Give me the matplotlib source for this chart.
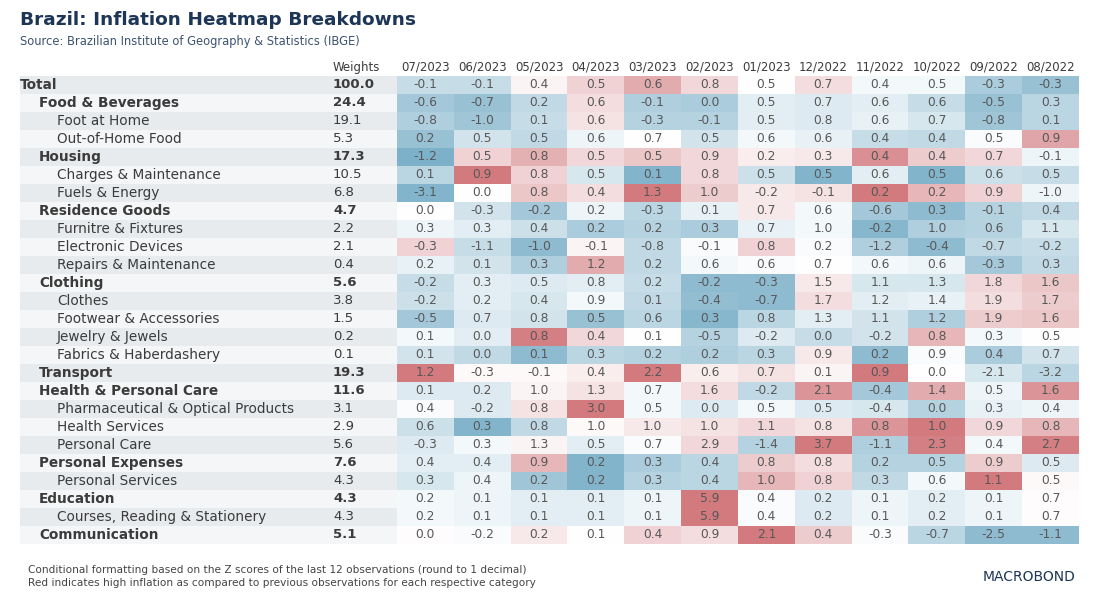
import matplotlib
matplotlib.use("Agg")
import matplotlib.pyplot as plt
from matplotlib.colors import LinearSegmentedColormap, Normalize
import numpy as np

# ---- data -------------------------------------------------------------
months = ['07/2023', '06/2023', '05/2023', '04/2023', '03/2023', '02/2023',
          '01/2023', '12/2022', '11/2022', '10/2022', '09/2022', '08/2022']

categories = ['Total', 'Food & Beverages', 'Foot at Home', 'Out-of-Home Food',
              'Housing', 'Charges & Maintenance', 'Fuels & Energy',
              'Residence Goods', 'Furnitre & Fixtures', 'Electronic Devices',
              'Repairs & Maintenance', 'Clothing', 'Clothes',
              'Footwear & Accessories', 'Jewelry & Jewels',
              'Fabrics & Haberdashery', 'Transport', 'Health & Personal Care',
              'Pharmaceutical & Optical Products', 'Health Services',
              'Personal Care', 'Personal Expenses', 'Personal Services',
              'Education', 'Courses, Reading & Stationery', 'Communication']

levels = [0, 1, 2, 2, 1, 2, 2, 1, 2, 2, 2, 1, 2, 2, 2, 2, 1, 1, 2, 2, 2, 1, 2, 1, 2, 1]

weights = [100.0, 24.4, 19.1, 5.3, 17.3, 10.5, 6.8, 4.7, 2.2, 2.1, 0.4, 5.6, 3.8,
           1.5, 0.2, 0.1, 19.3, 11.6, 3.1, 2.9, 5.6, 7.6, 4.3, 4.3, 4.3, 5.1]

values = np.array([
    [-0.1, -0.1, 0.4, 0.5, 0.6, 0.8, 0.5, 0.7, 0.4, 0.5, -0.3, -0.3],
    [-0.6, -0.7, 0.2, 0.6, -0.1, 0.0, 0.5, 0.7, 0.6, 0.6, -0.5, 0.3],
    [-0.8, -1.0, 0.1, 0.6, -0.3, -0.1, 0.5, 0.8, 0.6, 0.7, -0.8, 0.1],
    [0.2, 0.5, 0.5, 0.6, 0.7, 0.5, 0.6, 0.6, 0.4, 0.4, 0.5, 0.9],
    [-1.2, 0.5, 0.8, 0.5, 0.5, 0.9, 0.2, 0.3, 0.4, 0.4, 0.7, -0.1],
    [0.1, 0.9, 0.8, 0.5, 0.1, 0.8, 0.5, 0.5, 0.6, 0.5, 0.6, 0.5],
    [-3.1, 0.0, 0.8, 0.4, 1.3, 1.0, -0.2, -0.1, 0.2, 0.2, 0.9, -1.0],
    [0.0, -0.3, -0.2, 0.2, -0.3, 0.1, 0.7, 0.6, -0.6, 0.3, -0.1, 0.4],
    [0.3, 0.3, 0.4, 0.2, 0.2, 0.3, 0.7, 1.0, -0.2, 1.0, 0.6, 1.1],
    [-0.3, -1.1, -1.0, -0.1, -0.8, -0.1, 0.8, 0.2, -1.2, -0.4, -0.7, -0.2],
    [0.2, 0.1, 0.3, 1.2, 0.2, 0.6, 0.6, 0.7, 0.6, 0.6, -0.3, 0.3],
    [-0.2, 0.3, 0.5, 0.8, 0.2, -0.2, -0.3, 1.5, 1.1, 1.3, 1.8, 1.6],
    [-0.2, 0.2, 0.4, 0.9, 0.1, -0.4, -0.7, 1.7, 1.2, 1.4, 1.9, 1.7],
    [-0.5, 0.7, 0.8, 0.5, 0.6, 0.3, 0.8, 1.3, 1.1, 1.2, 1.9, 1.6],
    [0.1, 0.0, 0.8, 0.4, 0.1, -0.5, -0.2, 0.0, -0.2, 0.8, 0.3, 0.5],
    [0.1, 0.0, 0.1, 0.3, 0.2, 0.2, 0.3, 0.9, 0.2, 0.9, 0.4, 0.7],
    [1.2, -0.3, -0.1, 0.4, 2.2, 0.6, 0.7, 0.1, 0.9, 0.0, -2.1, -3.2],
    [0.1, 0.2, 1.0, 1.3, 0.7, 1.6, -0.2, 2.1, -0.4, 1.4, 0.5, 1.6],
    [0.4, -0.2, 0.8, 3.0, 0.5, 0.0, 0.5, 0.5, -0.4, 0.0, 0.3, 0.4],
    [0.6, 0.3, 0.8, 1.0, 1.0, 1.0, 1.1, 0.8, 0.8, 1.0, 0.9, 0.8],
    [-0.3, 0.3, 1.3, 0.5, 0.7, 2.9, -1.4, 3.7, -1.1, 2.3, 0.4, 2.7],
    [0.4, 0.4, 0.9, 0.2, 0.3, 0.4, 0.8, 0.8, 0.2, 0.5, 0.9, 0.5],
    [0.3, 0.4, 0.2, 0.2, 0.3, 0.4, 1.0, 0.8, 0.3, 0.6, 1.1, 0.5],
    [0.2, 0.1, 0.1, 0.1, 0.1, 5.9, 0.4, 0.2, 0.1, 0.2, 0.1, 0.7],
    [0.2, 0.1, 0.1, 0.1, 0.1, 5.9, 0.4, 0.2, 0.1, 0.2, 0.1, 0.7],
    [0.0, -0.2, 0.2, 0.1, 0.4, 0.9, 2.1, 0.4, -0.3, -0.7, -2.5, -1.1],
])

# z scores (rolling 12 obs) as read from the cell shading
zscores = np.array([
    [-1.0, -1.0, 0.2, 0.8, 1.5, 0.7, 0.0, 0.6, -0.2, -0.2, -1.5, -1.8],
    [-1.6, -1.8, -1.1, 0.6, -1.4, -1.5, -0.5, -0.6, -0.5, -1.0, -1.8, -1.2],
    [-1.4, -1.7, -1.0, 0.5, -1.3, -1.3, -0.5, -0.6, -0.4, -0.7, -1.7, -1.2],
    [-1.8, -0.8, -1.1, -0.3, 0.0, -0.8, -0.2, -0.4, -1.0, -1.1, -0.1, 1.6],
    [-2.3, 0.8, 1.4, 0.7, 1.0, 0.7, 0.3, 0.4, 2.0, 0.9, 0.7, -0.3],
    [-1.2, 2.6, 0.8, -0.7, -2.2, 0.7, -0.9, -2.2, -0.5, -2.2, -0.9, -1.0],
    [-2.2, 0.0, 1.0, 0.6, 2.5, 0.9, 0.4, 0.5, 2.5, 1.3, 0.8, -0.3],
    [0.0, -0.8, -1.6, -0.3, -1.2, -0.4, 0.4, -0.2, -1.6, -2.0, -1.3, -1.1],
    [-0.3, -0.5, -0.9, -1.5, -1.3, -1.5, -0.4, -0.2, -2.1, -1.4, -1.3, -0.7],
    [0.8, -1.0, -2.0, 0.2, -1.1, -0.1, 0.8, -0.1, -1.4, -2.0, -1.1, -1.0],
    [-0.4, -0.8, -1.4, 1.5, -1.1, -0.2, -0.1, 0.0, -0.2, -0.3, -1.6, -1.1],
    [-1.0, -0.5, -0.6, -0.5, -1.0, -2.0, -2.0, 0.4, -0.7, -0.7, 0.7, 1.0],
    [-0.9, -0.5, -0.7, -0.2, -1.1, -1.9, -2.0, 0.6, -0.5, -0.4, 0.6, 0.9],
    [-1.6, -0.6, -0.8, -1.8, -1.2, -2.1, -1.2, -0.5, -0.8, -1.4, 0.9, 1.0],
    [-0.2, -0.5, 2.3, 0.7, 0.0, -1.3, -0.6, -1.0, -0.8, 1.3, -0.2, 0.0],
    [-0.8, -1.1, -2.0, -1.2, -1.3, -1.4, -1.2, 0.4, -2.0, -0.1, -1.5, -0.8],
    [2.4, 0.1, 0.1, 0.3, 2.4, 0.3, 0.5, 0.2, 2.5, 0.0, -0.7, -1.2],
    [-0.6, -0.6, 0.2, 0.5, -0.2, 0.6, -1.1, 1.9, -1.6, 1.5, -0.3, 1.9],
    [-0.1, -0.6, 0.5, 2.5, -0.2, -0.6, -0.2, -0.6, -0.7, -1.3, -0.4, -0.3],
    [-0.9, -2.2, -1.1, 0.1, 0.4, 0.5, 0.7, 0.5, 1.9, 2.5, 0.7, 1.3],
    [-0.6, -0.2, 0.2, -0.5, -0.1, 0.7, -1.3, 2.4, -1.4, 2.3, -0.2, 2.3],
    [-0.5, -0.5, 1.3, -2.2, -1.5, -1.2, 0.9, 0.6, -1.3, -1.3, 0.9, -0.6],
    [-0.7, -0.3, -1.7, -2.2, -1.3, -1.2, 1.3, 0.8, -1.1, -0.2, 2.4, 0.1],
    [-0.2, -0.3, -0.5, -0.5, -0.3, 2.6, -0.1, -0.6, -0.3, -0.5, -0.3, 0.05],
    [-0.2, -0.3, -0.5, -0.5, -0.3, 2.6, -0.1, -0.6, -0.3, -0.5, -0.3, 0.05],
    [0.05, -0.1, 0.4, 0.0, 0.8, 0.6, 2.5, 0.9, -0.1, -1.2, -2.0, -2.0],
])

# ---- layout (pixels) --------------------------------------------------
W, H = 1099, 599
row_top = 76
row_h = 18.0
x_cells0, x_cells1 = 397, 1079
x_weights = 333
indent_x = [20, 39, 57]
navy = '#1d3557'
txt = '#3b3b3b'

plt.rcParams['font.family'] = ['DejaVu Sans']

fig = plt.figure(figsize=(W / 100, H / 100), dpi=100)
ax = fig.add_axes([0, 0, 1, 1])
ax.set_xlim(0, W)
ax.set_ylim(H, 0)
ax.axis('off')

n_rows = len(categories)
n_cols = len(months)
col_w = (x_cells1 - x_cells0) / n_cols
row_bottom = row_top + n_rows * row_h

# alternating row bands behind the label and weight columns
for i in range(n_rows):
    band = '#e8ebee' if i % 2 == 0 else '#f5f6f7'
    ax.add_patch(plt.Rectangle((20, row_top + i * row_h), x_cells0 - 20, row_h,
                               facecolor=band, edgecolor='none', zorder=0))

cmap = LinearSegmentedColormap.from_list(
    'bwr_soft', ['#78aec7', '#ffffff', '#d27a7e'])
ax.imshow(zscores, cmap=cmap, norm=Normalize(-2.4, 2.4), aspect='auto',
          interpolation='nearest',
          extent=[x_cells0, x_cells1, row_bottom, row_top], zorder=1)
ax.set_xlim(0, W)
ax.set_ylim(H, 0)

# headers
hy = row_top - 9
ax.text(x_weights, hy, 'Weights', ha='left', va='center', fontsize=8.5, color=txt)
for j, m in enumerate(months):
    ax.text(x_cells0 + (j + 0.5) * col_w, hy, m, ha='center', va='center',
            fontsize=8.5, color=txt)

for i, cat in enumerate(categories):
    y = row_top + (i + 0.5) * row_h
    bold = levels[i] <= 1
    fw = 'bold' if bold else 'normal'
    ax.text(indent_x[levels[i]], y, cat, ha='left', va='center', fontsize=9.8,
            fontweight=fw, color=txt)
    ax.text(x_weights, y, f'{weights[i]:.1f}', ha='left', va='center',
            fontsize=9.5, fontweight=fw, color=txt)
    for j in range(n_cols):
        ax.text(x_cells0 + (j + 0.5) * col_w, y, f'{values[i, j]:.1f}',
                ha='center', va='center', fontsize=8.8, color='#585858', zorder=3)

# titles
ax.text(20, 20, 'Brazil: Inflation Heatmap Breakdowns', ha='left', va='center',
        fontsize=13.3, fontweight='bold', color=navy)
ax.text(20, 42, 'Source: Brazilian Institute of Geography & Statistics (IBGE)',
        ha='left', va='center', fontsize=8.3, color='#3d5370')

# footer
ax.text(28, 570, 'Conditional formatting based on the Z scores of the last 12 '
        'observations (round to 1 decimal)', ha='left', va='center',
        fontsize=7.6, color='#444444')
ax.text(28, 583, 'Red indicates high inflation as compared to previous '
        'observations for each respective category', ha='left', va='center',
        fontsize=7.6, color='#444444')
ax.text(1076, 577, 'MACROBOND', ha='right', va='center', fontsize=10,
        color=navy)

fig.savefig('out.png', dpi=100)
